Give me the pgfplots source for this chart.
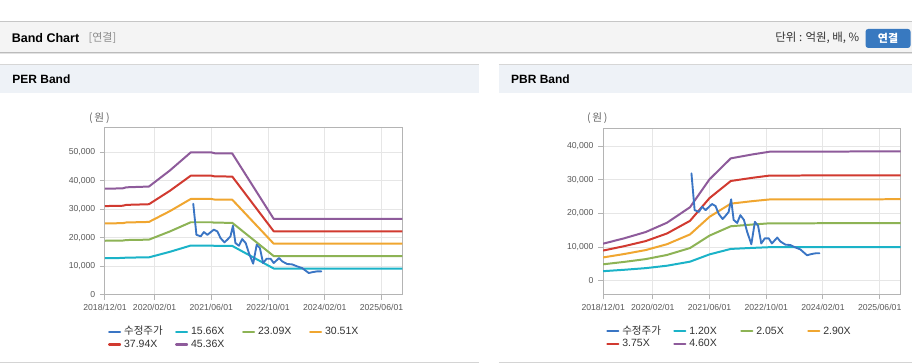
\documentclass[border=0pt]{standalone}
\usepackage{pgfplots}
\usepackage{pgfplotstable}
\pgfplotsset{compat=1.18}
\usepackage{fontspec}
\setmainfont{Liberation Sans}
\newfontfamily\kr{Noto Sans CJK KR}
\newcommand{\fs}[1]{\fontsize{#1}{#1}\selectfont}
\definecolor{cPrice}{HTML}{3A75C4}
\definecolor{cCyan}{HTML}{1BB3C8}
\definecolor{cGreen}{HTML}{8DB355}
\definecolor{cOrange}{HTML}{F0A630}
\definecolor{cRed}{HTML}{D13A30}
\definecolor{cPurple}{HTML}{8E5B9B}
\definecolor{gridc}{HTML}{E6E6E6}
\definecolor{axisc}{HTML}{B4B4B4}
\definecolor{tickc}{HTML}{5A5A5A}
\definecolor{legc}{HTML}{333333}
\definecolor{hdrbar}{HTML}{F4F4F4}
\definecolor{panelhdr}{HTML}{EEF2F7}
\definecolor{btn}{HTML}{3879C0}

\pgfplotstableread{
m v
24.9 31900
25.8 21000
27.0 20450
27.9 21960
28.9 21000
30.7 22800
31.7 22200
32.6 19860
33.7 18340
34.5 19280
35.4 20450
36.1 24180
36.8 18100
37.8 17170
38.7 19500
39.7 18100
40.6 14600
41.8 10860
42.8 17520
43.7 16350
44.6 11100
45.6 12620
46.7 12620
47.6 11100
49.1 12850
50.0 11680
51.4 10750
52.8 10630
54.2 9930
55.6 9350
57.5 7600
58.7 7940
59.9 8180
61.0 8180
}\pricetab

\pgfplotstableread{
m a b c d e
0 12830 18910 24990 31070 37150
5 12870 18980 25080 31190 37290
6 13000 19160 25320 31490 37650
12.4 13090 19300 25510 31720 37920
18.3 15030 22170 29290 36420 43550
24.2 17230 25400 33560 41730 49900
30 17230 25400 33560 41730 49900
31 17120 25240 33350 41470 49580
35.9 17100 25210 33320 41430 49530
47.6 9180 13530 17880 22230 26580
83.9 9180 13530 17880 22230 26580
}\pertab

\pgfplotstableread{
m a b c d e
0 2880 4920 6960 9000 11040
6 3300 5640 7980 10310 12650
12 3780 6460 9140 11810 14490
14 4020 6870 9720 12560 15410
18 4500 7690 10880 14060 17250
24.5 5700 9740 13780 17810 21850
30 7860 13430 19000 24560 30130
36 9480 16200 22910 29630 36340
42 9780 16710 23640 30560 37490
47 10000 17080 24160 31240 38320
83.9 10020 17120 24220 31310 38410
}\pbrtab

\pgfplotsset{bandaxis/.style={
  scale only axis, width=223.3pt,
  xmin=0, xmax=83.9,
  xtick={0,14,30,46,62,78},
  xticklabels={2018/12/01,2020/02/01,2021/06/01,2022/10/01,2024/02/01,2025/06/01},
  grid=major, grid style={draw=gridc, line width=0.75pt},
  axis line style={draw=axisc, line width=0.75pt},
  tick align=outside, tick pos=left, major tick length=3.75pt,
  major tick style={draw=axisc, line width=0.75pt},
  ticklabel style={font=\fs{6.5}, text=tickc},
  /pgf/number format/assume math mode=true,
  /pgf/number format/1000 sep={,},
  scaled y ticks=false,
  legend columns=4,
  legend style={at={(rel axis cs:0,0)}, anchor=north west, xshift=2.3pt, yshift=-23.8pt,
    draw=none, fill=none, inner sep=0pt, outer sep=0pt, column sep=0pt, row sep=1.6pt,
    font=\fs{7.9}, text=legc,
    nodes={inner sep=0pt, text height=6pt, text depth=2pt}},
  legend image code/.code={\draw[#1, line width=1.6pt] (0pt,0pt) -- (8.25pt,0pt); \path (10.5pt,0pt);},
  legend cell align=left,
  every axis plot/.append style={line join=round, line cap=round},
}}

\begin{document}
\begin{tikzpicture}
% background
\fill[white] (0pt,0pt) rectangle (684pt,273pt);
% top header bar
\fill[hdrbar] (0pt,233.6pt) rectangle (684pt,256.5pt);
\draw[color={rgb,255:red,198;green,198;blue,198}, line width=0.75pt] (0pt,256.5pt) -- (684pt,256.5pt);
\draw[color={rgb,255:red,187;green,187;blue,187}, line width=0.75pt] (0pt,233.6pt) -- (684pt,233.6pt);
\draw[color={rgb,255:red,226;green,226;blue,226}, line width=0.75pt] (0pt,232.85pt) -- (684pt,232.85pt);
\node[anchor=west, inner sep=0pt, font=\bfseries\fs{9.4}] at (8.25pt,244.5pt) {Band Chart};
\node[anchor=west, inner sep=0pt, font=\kr\fs{8.25}, text={rgb,255:red,140;green,140;blue,140}] at (66pt,244.5pt) {[연결]};
\node[anchor=east, inner sep=0pt, font=\kr\fs{8.6}, text={rgb,255:red,51;green,51;blue,51}] at (645pt,244.5pt) {단위 : 억원, 배, \%};
\fill[btn, rounded corners=2pt] (649.5pt,237pt) rectangle (683.25pt,251.25pt);
\node[inner sep=0pt, font=\kr\bfseries\fs{8.25}, text=white] at (666.4pt,244.1pt) {연결};
% panel headers
\fill[panelhdr] (0pt,203.5pt) rectangle (359.5pt,224.8pt);
\fill[panelhdr] (374.25pt,203.5pt) rectangle (684pt,224.8pt);
\draw[color={rgb,255:red,214;green,214;blue,214}, line width=0.75pt] (0pt,224.8pt) -- (359.5pt,224.8pt);
\draw[color={rgb,255:red,214;green,214;blue,214}, line width=0.75pt] (374.25pt,224.8pt) -- (684pt,224.8pt);
\draw[color={rgb,255:red,212;green,212;blue,212}, line width=0.75pt] (0pt,1pt) -- (359.5pt,1pt);
\draw[color={rgb,255:red,212;green,212;blue,212}, line width=0.75pt] (374.25pt,1pt) -- (684pt,1pt);
\node[anchor=west, inner sep=0pt, font=\bfseries\fs{9}] at (8.75pt,213.5pt) {PER Band};
\node[anchor=west, inner sep=0pt, font=\bfseries\fs{9}] at (383.25pt,213.5pt) {PBR Band};
\node[inner sep=0pt, font=\kr\fs{8}, text={rgb,255:red,102;green,102;blue,102}] at (74.25pt,184pt) {(\,원\,)};
\node[inner sep=0pt, font=\kr\fs{8}, text={rgb,255:red,102;green,102;blue,102}] at (448.1pt,184pt) {(\,원\,)};

% PER axis
\begin{axis}[bandaxis, at={(78.45pt,51.75pt)}, anchor=south west, height=125.25pt,
  ymin=0, ymax=58500, ytick={0,10000,20000,30000,40000,50000}]
\addlegendimage{color=cPrice}
\addlegendentry{\makebox[38.25pt][l]{\kr 수정주가}}
\addplot[cCyan, line width=1.5pt] table[x=m,y=a]{\pertab};
\addlegendentry{\makebox[38.25pt][l]{15.66X}}
\addplot[cGreen, line width=1.5pt] table[x=m,y=b]{\pertab};
\addlegendentry{\makebox[38.25pt][l]{23.09X}}
\addplot[cOrange, line width=1.5pt] table[x=m,y=c]{\pertab};
\addlegendentry{\makebox[38.25pt][l]{30.51X}}
\addplot[cRed, line width=1.5pt] table[x=m,y=d]{\pertab};
\addlegendentry{\makebox[38.25pt][l]{37.94X}}
\addplot[cPurple, line width=1.5pt] table[x=m,y=e]{\pertab};
\addlegendentry{\makebox[38.25pt][l]{45.36X}}
\addplot[cPrice, line width=1.4pt, forget plot] table[x=m,y=v]{\pricetab};
\end{axis}

% PBR axis
\begin{axis}[bandaxis, at={(452.5pt,51.98pt)}, anchor=south west, height=124.8pt,
  ymin=-4000, ymax=45300, ytick={0,10000,20000,30000,40000}]
\addlegendimage{color=cPrice}
\addlegendentry{\makebox[38.25pt][l]{\kr 수정주가}}
\addplot[cCyan, line width=1.5pt] table[x=m,y=a]{\pbrtab};
\addlegendentry{\makebox[38.25pt][l]{1.20X}}
\addplot[cGreen, line width=1.5pt] table[x=m,y=b]{\pbrtab};
\addlegendentry{\makebox[38.25pt][l]{2.05X}}
\addplot[cOrange, line width=1.5pt] table[x=m,y=c]{\pbrtab};
\addlegendentry{\makebox[38.25pt][l]{2.90X}}
\addplot[cRed, line width=1.5pt] table[x=m,y=d]{\pbrtab};
\addlegendentry{\makebox[38.25pt][l]{3.75X}}
\addplot[cPurple, line width=1.5pt] table[x=m,y=e]{\pbrtab};
\addlegendentry{\makebox[38.25pt][l]{4.60X}}
\addplot[cPrice, line width=1.4pt, forget plot] table[x=m,y=v]{\pricetab};
\end{axis}
\end{tikzpicture}
\end{document}
